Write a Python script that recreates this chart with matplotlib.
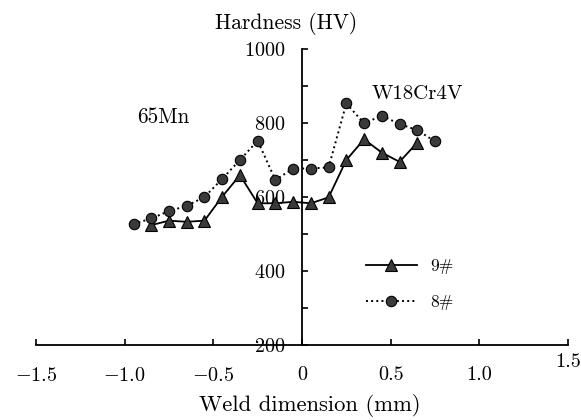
import matplotlib
matplotlib.use('Agg')
import matplotlib.pyplot as plt
from matplotlib.ticker import MultipleLocator

plt.rcParams['font.family'] = ['cmr10', 'DejaVu Serif']
plt.rcParams['mathtext.fontset'] = 'cm'
plt.rcParams['axes.formatter.use_mathtext'] = True

# weld position (mm) and hardness (HV)
x8 = [-0.95, -0.85, -0.75, -0.65, -0.55, -0.45, -0.35, -0.25, -0.15,
      -0.05, 0.05, 0.15, 0.25, 0.35, 0.45, 0.55, 0.65, 0.75]
hv8 = [527, 542, 562, 576, 600, 649, 700, 752, 646,
       677, 677, 680, 853, 799, 820, 797, 781, 750]

x9 = [-0.85, -0.75, -0.65, -0.55, -0.45, -0.35, -0.25, -0.15,
      -0.05, 0.05, 0.15, 0.25, 0.35, 0.45, 0.55, 0.65]
hv9 = [524, 536, 533, 536, 601, 659, 583, 583,
       587, 583, 599, 700, 756, 720, 695, 747]

xticks = [-1.5, -1.0, -0.5, 0, 0.5, 1.0, 1.5]
xticklabels = [r'$-1.5$', r'$-1.0$', r'$-0.5$', '0', '0.5', '1.0', '']
yticks = [200, 400, 600, 800, 1000]

fig = plt.figure(figsize=(5.81, 4.20), dpi=100)
ax = fig.add_axes([36/581, 75/420, 532/581, 296/420])

ax.plot(x9, hv9, '-', color='black', lw=1.3, marker='^', ms=8,
        mfc='#3a3a3a', mec='black', mew=0.8, label='9#')
ax.plot(x8, hv8, ':', color='black', lw=1.4, marker='o', ms=7.5,
        mfc='#3a3a3a', mec='black', mew=0.8, label='8#')

ax.set_xlim(-1.5, 1.5)
ax.set_ylim(200, 1000)

ax.spines['top'].set_visible(False)
ax.spines['right'].set_visible(False)
ax.spines['left'].set_position(('data', 0))
ax.spines['left'].set_linewidth(1.3)
ax.spines['bottom'].set_linewidth(1.3)

ax.set_xticks(xticks)
ax.set_xticklabels(xticklabels)
ax.set_yticks(yticks)
ax.yaxis.set_minor_locator(MultipleLocator(100))
ax.tick_params(axis='x', direction='in', length=4, width=1.2, pad=15.5, labelsize=14.5)
ax.tick_params(axis='y', which='both', direction='in', length=4, width=1.2,
               pad=12, labelsize=14.5)

# the 1.5 label sits higher than the rest
ax.text(1.5, 200 - 17/0.37, '1.5', ha='center', va='center', fontsize=14.5, clip_on=False)

ax.text(-0.09, 1068, 'Hardness (HV)', ha='center', va='center', fontsize=15.5, clip_on=False)
ax.text(0.045, 36, 'Weld dimension (mm)', ha='center', va='center', fontsize=16.3, clip_on=False)
ax.text(-0.784, 816, '65Mn', ha='center', va='center', fontsize=15.3)
ax.text(0.649, 878, 'W18Cr4V', ha='center', va='center', fontsize=15)

ax.legend(loc='upper left', bbox_to_anchor=(0.62, 0.29), frameon=False,
          fontsize=12.5, handlelength=2.95, handletextpad=0.75, labelspacing=1.15,
          borderpad=0, borderaxespad=0)

fig.savefig('out.png', dpi=100)
